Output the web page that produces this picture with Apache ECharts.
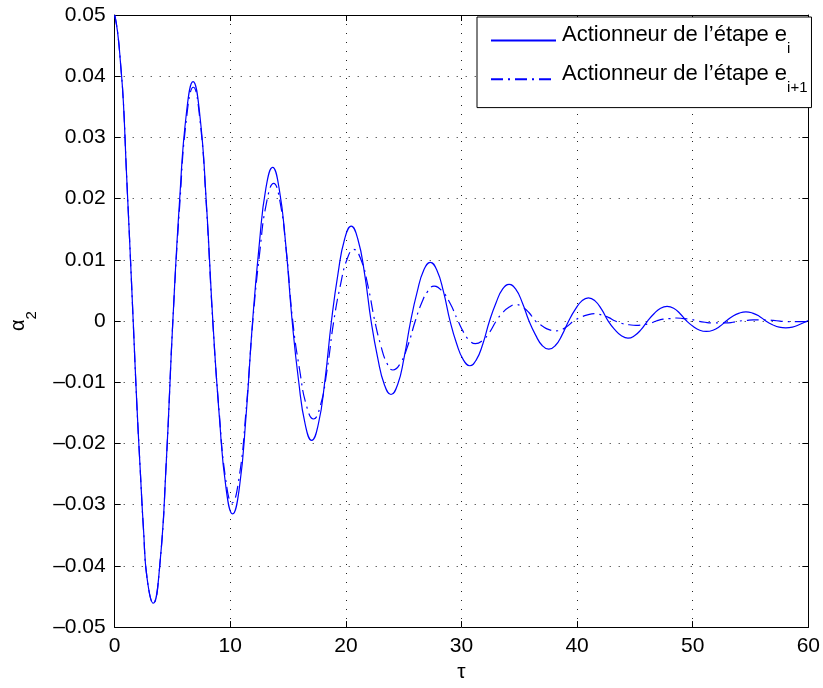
<!DOCTYPE html>
<html>
<head>
<meta charset="utf-8">
<style>
  html, body { margin: 0; padding: 0; background: #fff; }
  #chart { width: 823px; height: 688px; }
</style>
<script src="https://cdn.jsdelivr.net/npm/echarts@6/dist/echarts.min.js"></script>
</head>
<body>
<div id="chart"></div>
<script>
// Tick values of both axes
const tauTicks = [0, 10, 20, 30, 40, 50, 60];
const alphaTicks = [-0.05, -0.04, -0.03, -0.02, -0.01, 0, 0.01, 0.02, 0.03, 0.04, 0.05];

// Legend entries: base text, then subscript after "_"
const seriesNames = ['Actionneur de l’étape e_i', 'Actionneur de l’étape e_i+1'];

// Actuator of step e_i : time samples and alpha_2 response
const tauA = [
  0, 0.25, 0.5, 0.75, 1.0, 1.3, 1.6, 1.9, 2.2, 2.5, 2.8,
  3.33, 3.90, 4.46, 5.03, 5.61, 6.20,
  6.78, 7.35, 7.92, 8.49, 9.06, 9.63,
  10.20, 10.78, 11.35, 11.93, 12.51, 13.08,
  13.66, 14.22, 14.79, 15.35, 15.91, 16.48,
  17.04, 17.61, 18.18, 18.75, 19.32, 19.89,
  20.46, 21.03, 21.61, 22.18, 22.75, 23.33,
  23.90, 24.47, 25.03, 25.60, 26.17, 26.73,
  27.30, 27.87, 28.44, 29.01, 29.58, 30.15,
  30.72, 31.29, 31.85, 32.42, 32.99, 33.55,
  34.12, 34.69, 35.26, 35.84, 36.41, 36.98,
  37.55, 38.12, 38.69, 39.27, 39.84, 40.41,
  40.98, 41.55, 42.12, 42.69, 43.26, 43.83,
  44.40, 44.96, 45.53, 46.09, 46.65, 47.22,
  47.78, 48.35, 48.91, 49.48, 50.05, 50.61,
  51.18, 51.75, 52.32, 52.89, 53.46, 54.03,
  54.60, 55.18, 55.75, 56.33, 56.90, 57.48,
  58.05, 58.62, 59.19, 60.0
];
const alphaA = [
  0.0500, 0.0472, 0.0422, 0.0358, 0.0250, 0.0128, 0.0000, -0.0130, -0.0240, -0.0343, -0.0420,
  -0.0461, -0.0399, -0.0231, 0.0000, 0.0196, 0.0339,
  0.0391, 0.0339, 0.0196, 0.0000, -0.0158, -0.0273,
  -0.0315, -0.0273, -0.0158, 0.0000, 0.0126, 0.0217,
  0.0251, 0.0217, 0.0126, 0.0000, -0.0098, -0.0169,
  -0.0195, -0.0169, -0.0098, 0.0000, 0.0078, 0.0134,
  0.0155, 0.0134, 0.0078, 0.0000, -0.0060, -0.0104,
  -0.0120, -0.0104, -0.0060, 0.0000, 0.0048, 0.0083,
  0.0096, 0.0083, 0.0048, 0.0000, -0.0037, -0.0063,
  -0.0073, -0.0063, -0.0037, 0.0000, 0.0030, 0.0052,
  0.0060, 0.0052, 0.0030, 0.0000, -0.0023, -0.0040,
  -0.0046, -0.0040, -0.0023, 0.0000, 0.0019, 0.0033,
  0.0038, 0.0033, 0.0019, 0.0000, -0.0014, -0.0024,
  -0.0028, -0.0024, -0.0014, 0.0000, 0.0012, 0.0021,
  0.0024, 0.0021, 0.0012, 0.0000, -0.0009, -0.0015,
  -0.0017, -0.0015, -0.0009, 0.0000, 0.0008, 0.0013,
  0.0015, 0.0013, 0.0008, 0.0000, -0.0006, -0.0010,
  -0.0011, -0.0010, -0.0006, 0.0001
];

// Actuator of step e_i+1 : time samples and alpha_2 response
const tauB = [
  0, 0.25, 0.5, 0.75, 1.0, 1.3, 1.6, 1.9, 2.2, 2.5, 2.8,
  3.33, 3.90, 4.46, 5.03, 5.63, 6.21,
  6.80, 7.36, 7.92, 8.48, 9.04, 9.59,
  10.15, 10.75, 11.35, 11.95, 12.55, 13.15,
  13.75, 14.30, 14.85, 15.40, 16.00, 16.60,
  17.20, 17.78, 18.37, 18.95, 19.53, 20.10,
  20.68, 21.29, 21.89, 22.50, 23.02, 23.55,
  24.07, 24.71, 25.36, 26.00, 26.54, 27.09,
  27.63, 28.32, 29.01, 29.70, 30.20, 30.70,
  31.20, 31.80, 32.40, 33.00, 33.57, 34.13,
  34.70, 35.27, 35.83, 36.40, 36.98, 37.57,
  38.15, 38.67, 39.18, 39.70, 40.30, 40.90,
  41.50, 42.10, 42.70, 43.30, 43.90, 44.50,
  45.10, 45.68, 46.27, 46.85, 47.43, 48.02,
  48.60, 49.22, 49.83, 50.45, 51.07, 51.68,
  52.30, 52.88, 53.47, 54.05, 54.63, 55.22,
  55.80, 56.38, 56.97, 57.55, 58.13, 58.72,
  59.30, 60.0
];
const alphaB = [
  0.0500, 0.0472, 0.0422, 0.0358, 0.0250, 0.0128, 0.0000, -0.0130, -0.0240, -0.0343, -0.0420,
  -0.0461, -0.0399, -0.0231, 0.0000, 0.0191, 0.0331,
  0.0382, 0.0331, 0.0191, 0.0000, -0.0149, -0.0257,
  -0.0297, -0.0257, -0.0149, 0.0000, 0.0113, 0.0195,
  0.0225, 0.0195, 0.0113, 0.0000, -0.0080, -0.0139,
  -0.0160, -0.0139, -0.0080, 0.0000, 0.0059, 0.0101,
  0.0117, 0.0101, 0.0059, 0.0000, -0.0040, -0.0069,
  -0.0080, -0.0069, -0.0040, 0.0000, 0.0029, 0.0049,
  0.0057, 0.0049, 0.0029, 0.0000, -0.0019, -0.0032,
  -0.0037, -0.0032, -0.0019, 0.0000, 0.0014, 0.0023,
  0.0027, 0.0023, 0.0014, 0.0000, -0.0008, -0.0014,
  -0.0016, -0.0014, -0.0008, 0.0000, 0.0006, 0.0010,
  0.0012, 0.0010, 0.0006, 0.0000, -0.0004, -0.0006,
  -0.0007, -0.0006, -0.0004, 0.0000, 0.0003, 0.0004,
  0.0005, 0.0004, 0.0003, 0.0000, -0.0002, -0.0003,
  -0.0003, -0.0003, -0.0002, 0.0000, 0.0001, 0.0002,
  0.0002, 0.0002, 0.0001, 0.0000, -0.0001, -0.0001,
  -0.0001, -0.0001
];

const FONT = '"Liberation Sans", Arial, Helvetica, sans-serif';
const BLUE = '#0000ff';

const chart = echarts.init(document.getElementById('chart'), null, { renderer: 'canvas' });

// Subscripts through rich text: the subscript token is padded on top and
// sets the (taller) line height, so it sits below the main baseline.
const legendRich = {
  m: { fontFamily: FONT, fontSize: 22, lineHeight: 22, color: '#000', verticalAlign: 'top', padding: [0, 0, 0, 1] },
  s: { fontFamily: FONT, fontSize: 15, lineHeight: 32.8, color: '#000', verticalAlign: 'bottom', padding: [17.8, 0, 0, 0] }
};
const nameRich = {
  a: { fontFamily: FONT, fontSize: 20, lineHeight: 20, color: '#000', verticalAlign: 'top' },
  s: { fontFamily: FONT, fontSize: 15, lineHeight: 31.7, color: '#000', verticalAlign: 'bottom', padding: [16.7, 0, 0, 0] }
};

const dottedGrid = { show: true, lineStyle: { color: '#222', width: 1, type: [1, 8] } };

function tickText(v, step) {
  if (Math.abs(v) < 1e-9) return '0';
  const s = Number.isInteger(step) ? String(Math.round(v)) : Math.abs(v).toFixed(2);
  return (v < 0 && !Number.isInteger(step) ? '\u2013' : '') + s;
}

function makeAxis(ticks, pos, main, extra) {
  const step = ticks[1] - ticks[0];
  return Object.assign({
    type: 'value',
    position: pos,
    min: ticks[0],
    max: ticks[ticks.length - 1],
    interval: step,
    axisLine: { show: true, onZero: false, lineStyle: { color: '#000', width: 1 } },
    axisTick: { show: true, inside: true, length: 6, lineStyle: { color: '#000', width: 1 } },
    axisLabel: main ? {
      show: true, color: '#000', fontFamily: FONT, fontSize: 21, margin: 9,
      formatter: v => tickText(v, step)
    } : { show: false },
    splitLine: main ? dottedGrid : { show: false }
  }, extra || {});
}

const option = {
  animation: false,
  backgroundColor: '#fff',
  grid: { left: 108, right: 12, top: 15, bottom: 58, containLabel: false },
  xAxis: [
    makeAxis(tauTicks, 'bottom', true, {
      name: 'τ', nameLocation: 'middle', nameGap: 29,
      nameTextStyle: { fontFamily: FONT, fontSize: 21, color: '#000' }
    }),
    makeAxis(tauTicks, 'top', false)
  ],
  yAxis: [
    makeAxis(alphaTicks, 'left', true, {
      name: '{a|α}{s|2}', nameLocation: 'middle', nameGap: 75, nameRotate: 90,
      nameTextStyle: { rich: nameRich }
    }),
    makeAxis(alphaTicks, 'right', false)
  ],
  legend: {
    orient: 'vertical',
    left: 477,
    top: 17,
    padding: [7, 4, 12, 13],
    itemGap: 6,
    itemWidth: 65,
    itemHeight: 14,
    backgroundColor: '#fff',
    borderColor: '#000',
    borderWidth: 1,
    borderRadius: 0,
    itemStyle: { opacity: 0 },
    data: seriesNames,
    textStyle: { fontFamily: FONT, color: '#000', rich: legendRich },
    formatter: name => {
      const k = name.indexOf('_');
      return '{m|' + name.slice(0, k) + '}{s|' + name.slice(k + 1) + '}';
    }
  },
  series: [
    {
      name: seriesNames[0],
      type: 'line',
      data: tauA.map((t, i) => [t, alphaA[i]]),
      showSymbol: false, symbol: 'none',
      smooth: 0.5,
      lineStyle: { color: BLUE, width: 1.2, type: 'solid' },
      itemStyle: { color: BLUE }
    },
    {
      name: seriesNames[1],
      type: 'line',
      data: tauB.map((t, i) => [t, alphaB[i]]),
      showSymbol: false, symbol: 'none',
      smooth: 0.5,
      lineStyle: { color: BLUE, width: 1.2, type: [12, 5, 2, 5] },
      itemStyle: { color: BLUE }
    }
  ]
};

chart.setOption(option);
</script>
</body>
</html>
